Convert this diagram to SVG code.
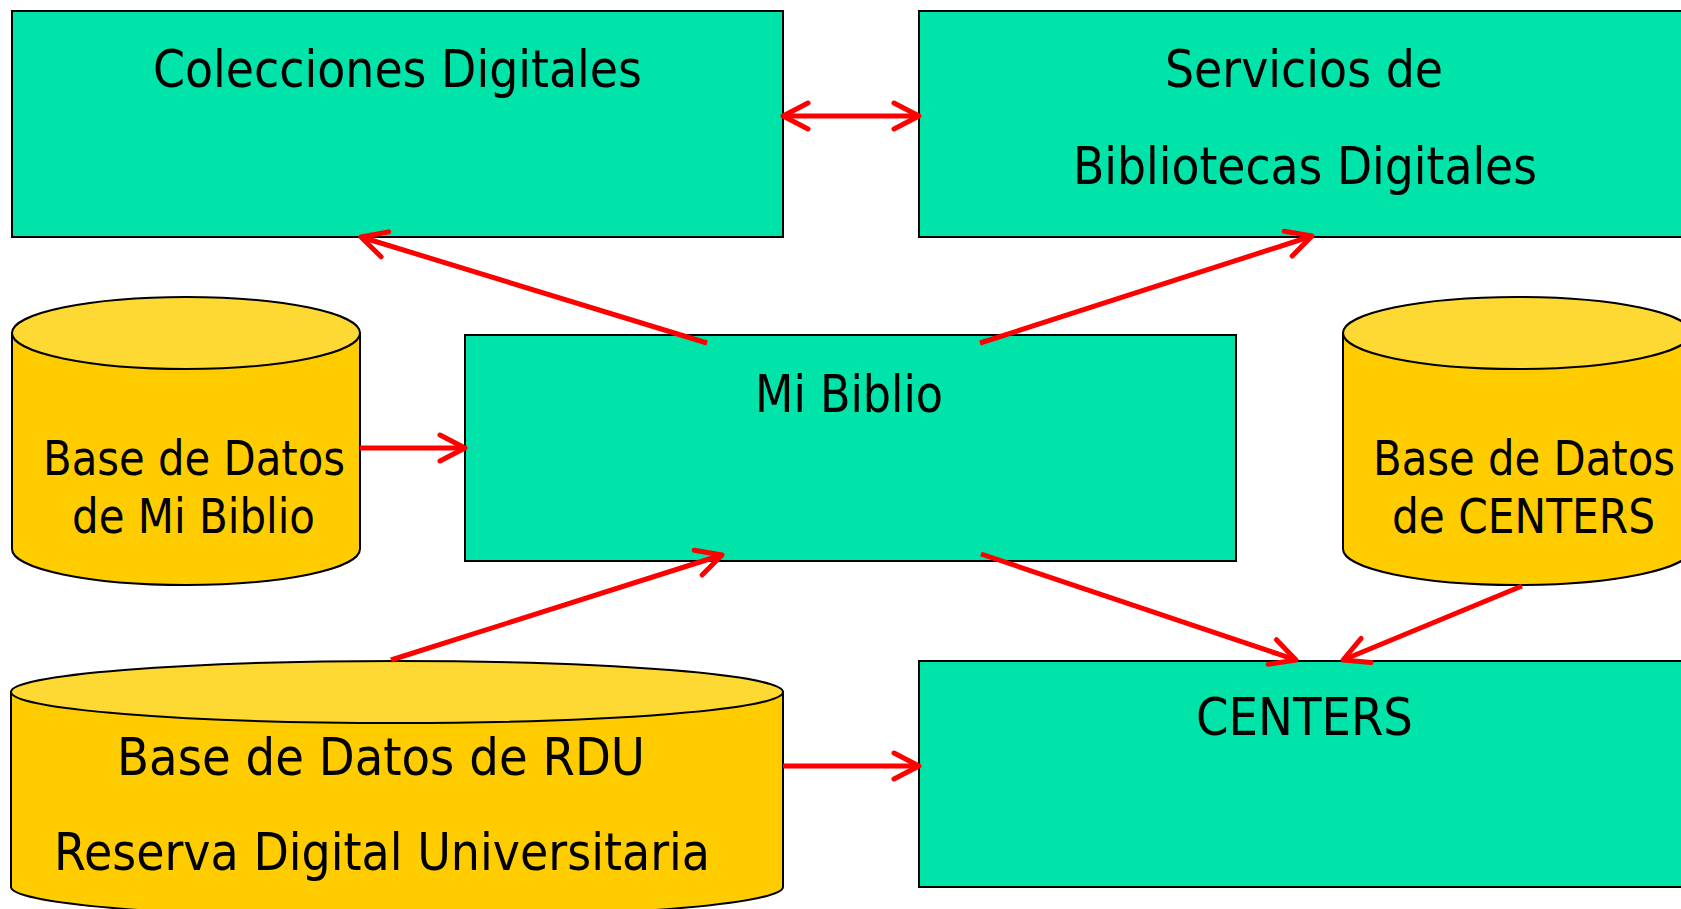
<svg xmlns="http://www.w3.org/2000/svg" width="1681" height="909" viewBox="0 0 1681 909">
<style>
.box{fill:#00E4AA;stroke:#000;stroke-width:2}
.cylb{fill:#FFCC00;stroke:#000;stroke-width:2}
.cylt{fill:#FFD933;stroke:#000;stroke-width:2}
.t{font-family:"DejaVu Sans","Liberation Sans",sans-serif;fill:#000;text-anchor:start}
.con{stroke:#FF0000;stroke-width:5;fill:none}
</style>
<defs>
<marker id="ah" markerUnits="userSpaceOnUse" orient="auto-start-reverse" markerWidth="40" markerHeight="40" refX="0" refY="0" viewBox="-30 -20 40 40" overflow="visible">
<path d="M -25 -13 L 0 0 L -25 13" fill="none" stroke="#FF0000" stroke-width="5" stroke-linecap="round" stroke-linejoin="round"/>
</marker>
</defs>
<rect width="1681" height="909" fill="#fff"/>
<g id="colecciones">
<rect class="box" x="12" y="11" width="771" height="226"/>
<text class="t" x="153" y="87" font-size="52" textLength="489" lengthAdjust="spacingAndGlyphs">Colecciones Digitales</text>
</g>
<g id="servicios">
<rect class="box" x="919" y="11" width="771" height="226"/>
<text class="t" x="1165" y="87" font-size="52" textLength="278" lengthAdjust="spacingAndGlyphs">Servicios de</text>
<text class="t" x="1073" y="184" font-size="52" textLength="464" lengthAdjust="spacingAndGlyphs">Bibliotecas Digitales</text>
</g>
<g id="mibiblio">
<rect class="box" x="465" y="335" width="771" height="226"/>
<text class="t" x="755" y="412" font-size="52" textLength="188" lengthAdjust="spacingAndGlyphs">Mi Biblio</text>
</g>
<g id="centers">
<rect class="box" x="919" y="661" width="771" height="226"/>
<text class="t" x="1196" y="735" font-size="52" textLength="217" lengthAdjust="spacingAndGlyphs">CENTERS</text>
</g>
<g id="db-mibiblio">
<path class="cylb" d="M 12 333 L 12 549 A 174 36 0 0 0 360 549 L 360 333 Z"/>
<ellipse class="cylt" cx="186" cy="333" rx="174" ry="36"/>
<text class="t" x="43" y="475" font-size="48" textLength="302" lengthAdjust="spacingAndGlyphs">Base de Datos</text>
<text class="t" x="72" y="533" font-size="48" textLength="243" lengthAdjust="spacingAndGlyphs">de Mi Biblio</text>
</g>
<g id="db-centers">
<path class="cylb" d="M 1343 333 L 1343 549 A 174 36 0 0 0 1691 549 L 1691 333 Z"/>
<ellipse class="cylt" cx="1517" cy="333" rx="174" ry="36"/>
<text class="t" x="1373" y="475" font-size="48" textLength="302" lengthAdjust="spacingAndGlyphs">Base de Datos</text>
<text class="t" x="1392" y="533" font-size="48" textLength="263" lengthAdjust="spacingAndGlyphs">de CENTERS</text>
</g>
<g id="db-rdu">
<path class="cylb" d="M 11 692 L 11 887 A 386 31 0 0 0 783 887 L 783 692 Z"/>
<ellipse class="cylt" cx="397" cy="692" rx="386" ry="31"/>
<text class="t" x="117" y="775" font-size="52" textLength="528" lengthAdjust="spacingAndGlyphs">Base de Datos de RDU</text>
<text class="t" x="54" y="870" font-size="52" textLength="656" lengthAdjust="spacingAndGlyphs">Reserva Digital Universitaria</text>
</g>
<g id="connectors">
<line class="con" x1="783" y1="116" x2="919" y2="116" marker-start="url(#ah)" marker-end="url(#ah)"/>
<line class="con" x1="707" y1="343" x2="361" y2="237" marker-end="url(#ah)"/>
<line class="con" x1="980" y1="343" x2="1312" y2="236" marker-end="url(#ah)"/>
<line class="con" x1="360" y1="448" x2="465" y2="448" marker-end="url(#ah)"/>
<line class="con" x1="391" y1="660" x2="722" y2="555" marker-end="url(#ah)"/>
<line class="con" x1="981" y1="554" x2="1296" y2="660" marker-end="url(#ah)"/>
<line class="con" x1="1522" y1="586" x2="1343" y2="660" marker-end="url(#ah)"/>
<line class="con" x1="783" y1="766" x2="919" y2="766" marker-end="url(#ah)"/>
</g>
</svg>
